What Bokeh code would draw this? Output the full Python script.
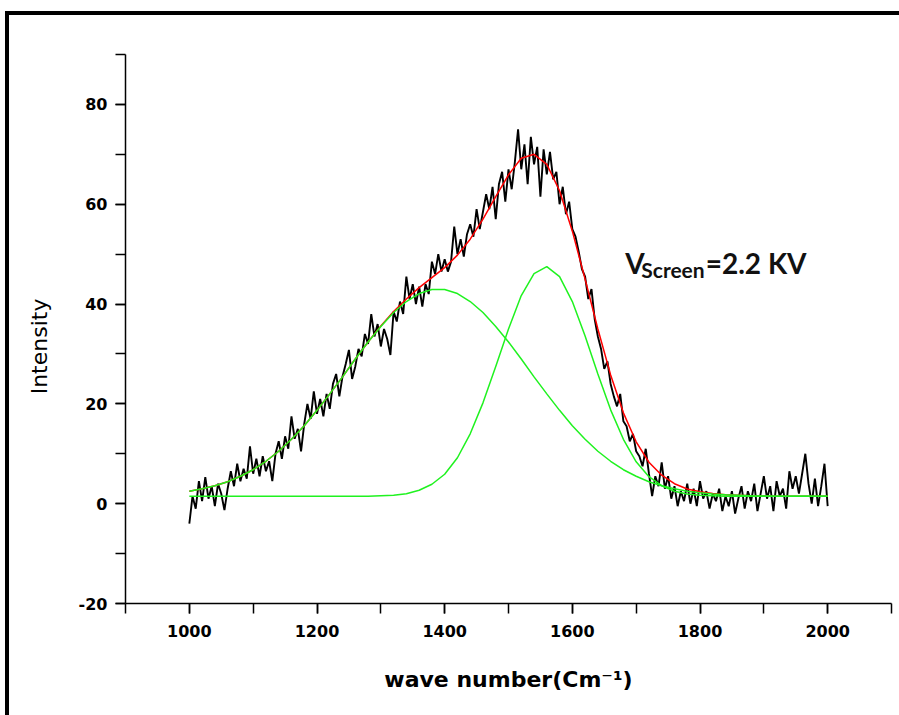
from bokeh.plotting import figure
from bokeh.models import Label, FixedTicker
from bokeh.embed import file_html
from bokeh.resources import INLINE

# ---- data ----
x_data = list(range(1000, 2001, 5))
y_data = [
    -4.0, 1.5, -1.0, 4.5, 0.5, 5.3, 1.0, 3.5, -0.5, 4.0,
    2.0, -1.3, 3.0, 6.5, 3.5, 8.0, 4.5, 7.0, 5.0, 11.5,
    6.0, 9.0, 5.5, 9.5, 6.5, 8.5, 4.5, 10.0, 12.5, 9.0,
    13.5, 11.0, 17.5, 13.0, 15.0, 10.5, 16.0, 20.0, 17.0, 22.5,
    18.0, 21.0, 17.5, 22.0, 19.0, 24.0, 26.0, 21.5, 25.5, 28.0,
    30.8, 25.0, 27.5, 31.0, 29.5, 34.0, 32.0, 38.0, 33.5, 36.0,
    31.5, 35.0, 33.0, 29.8, 38.5, 36.5, 40.5, 38.0, 45.5, 41.0,
    44.0, 40.0, 43.5, 39.5, 44.0, 42.0, 48.5, 46.0, 50.0, 46.5,
    49.0, 46.5, 48.5, 55.5, 50.0, 53.0, 49.5, 54.0, 56.0, 53.5,
    59.0, 55.0, 58.5, 62.0, 59.0, 63.5, 57.0, 64.0, 66.5, 60.5,
    67.0, 63.0, 68.5, 75.0, 67.0, 72.0, 64.0, 73.5, 68.0, 71.5,
    61.5, 71.0, 66.0, 70.5, 65.0, 66.5, 60.0, 63.5, 58.0, 60.5,
    55.0, 53.5, 50.5, 47.0, 45.5, 41.0, 43.0, 37.0, 33.5, 31.0,
    27.0, 28.5, 24.0, 21.5, 19.5, 22.0, 16.5, 15.5, 12.5, 14.0,
    10.5, 9.5, 7.5, 11.0, 6.0, 1.5, 5.5, 3.5, 8.3, 3.0,
    5.5, 1.0, 3.5, -0.5, 2.5, 0.5, 4.0, 0.0, 3.0, -0.5,
    4.5, 1.0, 2.5, -1.0, 2.0, 0.5, 3.0, -1.5, 1.5, -0.5,
    2.5, -2.0, 1.0, 3.5, -1.0, 2.5, 0.5, 4.0, -1.5, 2.0,
    5.5, 1.0, 3.5, -1.5, 4.5, 1.5, 3.0, -1.0, 6.5, 3.0,
    5.5, 2.0, 6.0, 10.0, 4.0, 0.0, 5.0, -0.5, 3.5, 8.0,
    -0.5,
]

x_fit = list(range(1000, 2001, 20))
peak1 = [
    2.5, 3.0, 3.6, 4.4, 5.5, 6.8, 8.5, 10.5, 12.9, 15.6,
    18.7, 22.0, 25.4, 29.0, 32.4, 35.5, 38.3, 40.5, 42.1, 42.9,
    42.9, 42.1, 40.5, 38.3, 35.5, 32.4, 29.0, 25.4, 22.0, 18.7,
    15.6, 12.9, 10.5, 8.5, 6.8, 5.5, 4.4, 3.6, 3.0, 2.5,
    2.2, 1.95, 1.8, 1.7, 1.6, 1.55, 1.5, 1.5, 1.5, 1.5, 1.5,
]
peak2 = [
    1.5, 1.5, 1.5, 1.5, 1.5, 1.5, 1.5, 1.5, 1.5, 1.5,
    1.5, 1.5, 1.5, 1.5, 1.5, 1.6, 1.7, 2.0, 2.7, 3.9,
    5.9, 9.2, 14.0, 20.2, 27.5, 35.0, 41.7, 46.1, 47.5, 45.5,
    40.5, 33.6, 26.0, 18.8, 12.9, 8.4, 5.4, 3.6, 2.5, 1.95,
    1.7, 1.6, 1.5, 1.5, 1.5, 1.5, 1.5, 1.5, 1.5, 1.5, 1.5,
]
fit_sum = [
    2.5, 3.0, 3.6, 4.4, 5.5, 6.8, 8.5, 10.5, 12.9, 15.6,
    18.7, 22.0, 25.4, 29.0, 32.4, 35.6, 38.5, 41.0, 43.3, 45.3,
    47.3, 49.8, 53.0, 57.0, 61.5, 65.9, 69.2, 70.0, 68.0, 62.7,
    54.6, 45.0, 35.0, 25.8, 18.2, 12.4, 8.3, 5.7, 4.0, 2.95,
    2.4, 2.05, 1.8, 1.7, 1.6, 1.55, 1.5, 1.5, 1.5, 1.5, 1.5,
]

x_ticks = [1000, 1200, 1400, 1600, 1800, 2000]
x_minor = [900, 1000, 1100, 1200, 1300, 1400, 1500, 1600, 1700, 1800, 1900, 2000, 2100]
y_ticks = [-20, 0, 20, 40, 60, 80]
y_minor = [-20, -10, 0, 10, 20, 30, 40, 50, 60, 70, 80, 90]

# ---- figure ----
p = figure(width=900, height=712, x_range=(900, 2100), y_range=(-20, 90),
           output_backend="svg", toolbar_location=None,
           min_border_left=116, min_border_right=18,
           min_border_top=39, min_border_bottom=124,
           background_fill_color="white", border_fill_color="white",
           styles={"margin-left": "5px", "margin-top": "11px",
                   "border-left": "4px solid black",
                   "border-top": "4px solid black"})
p.grid.visible = False
p.outline_line_color = None

p.line(x_data, y_data, line_color="black", line_width=1.9)
p.line(x_fit, fit_sum, line_color="#ff0000", line_width=1.5)
p.line(x_fit, peak1, line_color="#1ff21f", line_width=1.5)
p.line(x_fit, peak2, line_color="#1ff21f", line_width=1.5)

for ax in (p.xaxis[0], p.yaxis[0]):
    ax.axis_line_width = 1.5
    ax.axis_line_color = "black"
    ax.major_tick_in = 0
    ax.major_tick_out = 10
    ax.minor_tick_in = 0
    ax.minor_tick_out = 10
    ax.major_tick_line_width = 1.5
    ax.minor_tick_line_width = 1.5
    ax.major_label_text_font = "DejaVu Sans"
    ax.major_label_text_font_style = "bold"
    ax.major_label_text_font_size = "16px"
    ax.major_label_text_color = "black"

p.xaxis.ticker = FixedTicker(ticks=x_ticks, minor_ticks=x_minor)
p.yaxis.ticker = FixedTicker(ticks=y_ticks, minor_ticks=y_minor)
p.yaxis.major_label_overrides = {-20: "-20"}
p.xaxis.major_label_standoff = 11
p.yaxis.major_label_standoff = 8

p.xaxis.axis_label = "wave number(Cm⁻¹)"
p.xaxis.axis_label_text_font = "DejaVu Sans"
p.xaxis.axis_label_text_font_style = "bold"
p.xaxis.axis_label_text_font_size = "22px"
p.xaxis.axis_label_standoff = 27
p.xaxis.axis_label_text_color = "black"

# trailing no-break spaces move the title a little below the frame centre, as in the reference
p.yaxis.axis_label = "Intensity" + "\u00a0" * 5
p.yaxis.axis_label_text_font = "DejaVu Sans"
p.yaxis.axis_label_text_font_style = "normal"
p.yaxis.axis_label_text_font_size = "22px"
p.yaxis.axis_label_standoff = 24
p.yaxis.axis_label_text_color = "black"

# annotation V_Screen=2.2 KV
p.add_layout(Label(x=1683, y=48.3, text="V", text_font="Lato", text_font_style="bold",
                   text_font_size="28px", text_baseline="alphabetic", text_color="#111111"))
p.add_layout(Label(x=1708, y=47.0, text="Screen", text_font="Lato", text_font_style="bold",
                   text_font_size="21px", text_baseline="alphabetic", text_color="#111111"))
p.add_layout(Label(x=1809, y=48.3, text="=2.2 KV", text_font="Lato", text_font_style="bold",
                   text_font_size="28px", text_baseline="alphabetic", text_color="#111111"))

html = file_html(p, INLINE)
html = html.replace("<head>", "<head><style>html, body { margin: 0; overflow: hidden; }</style>", 1)
open("out.html", "w").write(html)
